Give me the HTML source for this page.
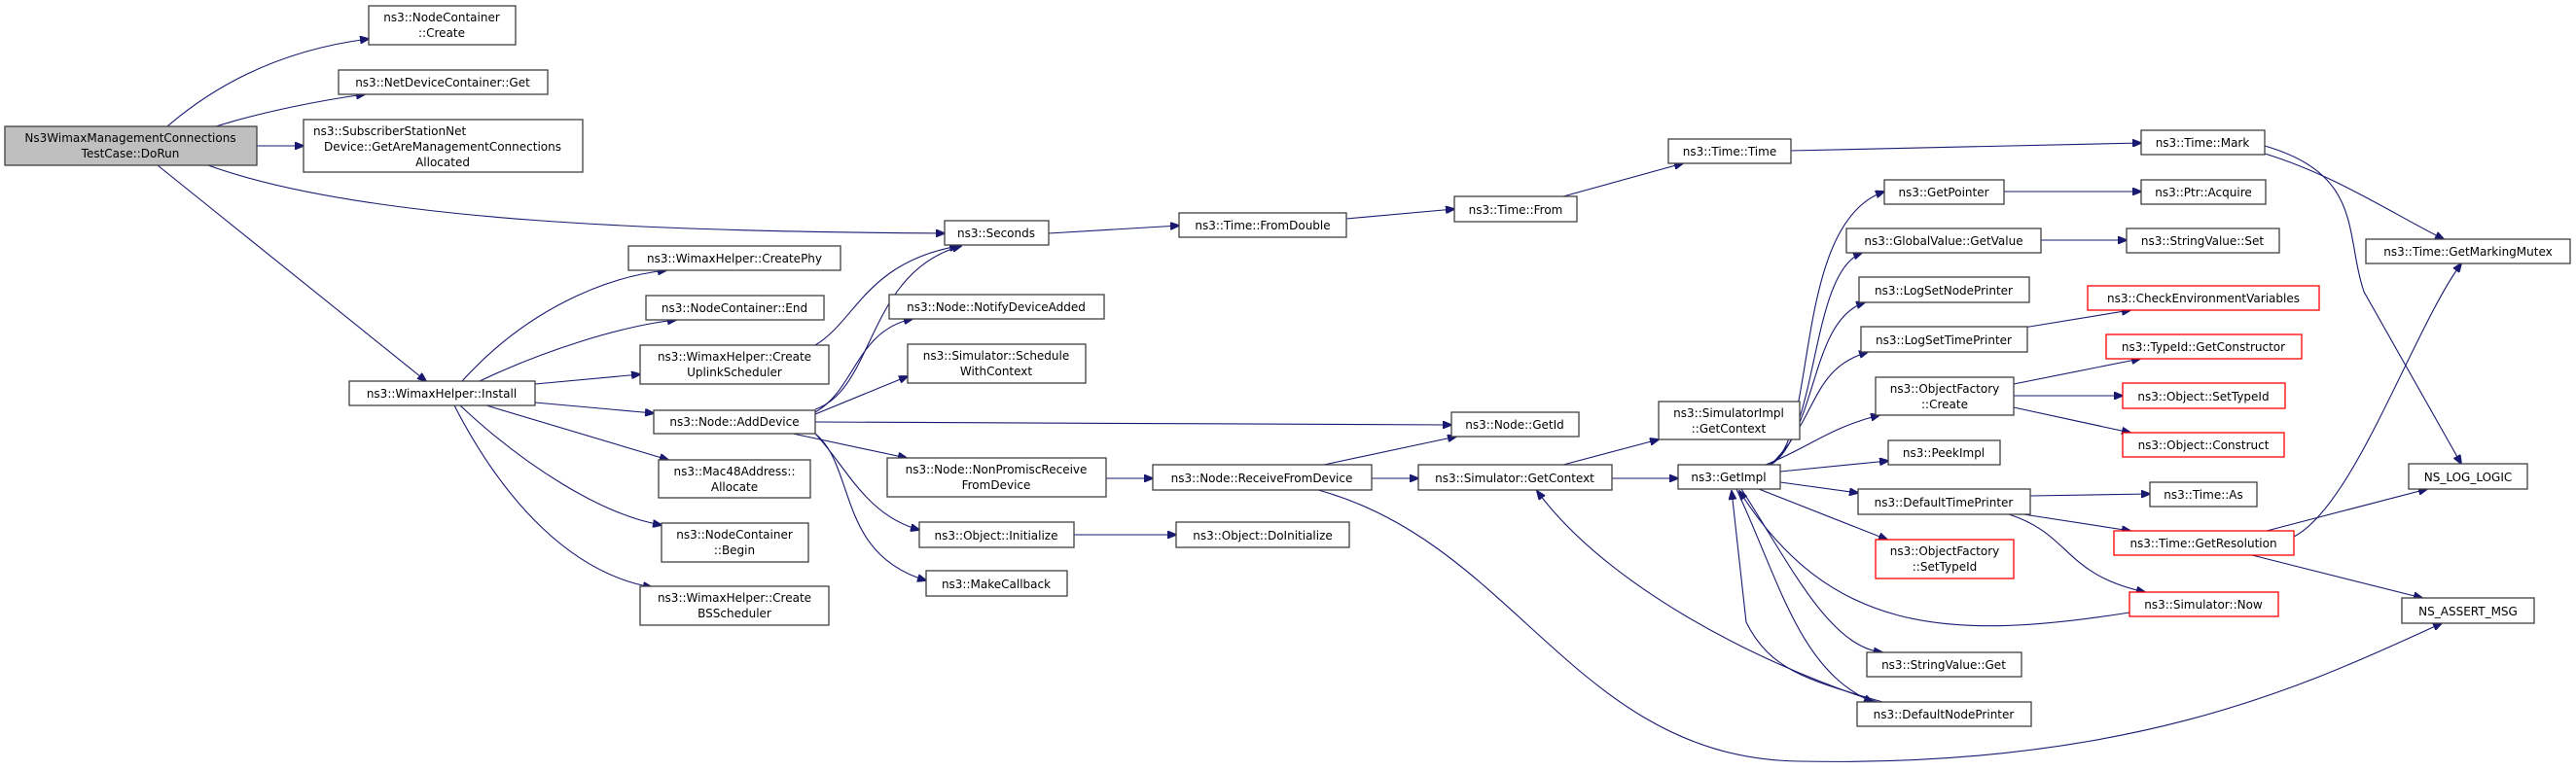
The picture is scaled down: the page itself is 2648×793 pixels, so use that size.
<!DOCTYPE html>
<html><head><meta charset="utf-8"><style>
html,body{margin:0;padding:0;background:#fff;}
svg{display:block}
text{font-family:"DejaVu Sans","Liberation Sans",sans-serif;font-size:12px;fill:#000;text-anchor:middle}
.b{fill:#fff;stroke:#404040;stroke-width:1.3}
.r{fill:#fff;stroke:#ff0000;stroke-width:1.3}
.g{fill:#bfbfbf;stroke:#404040;stroke-width:1.3}
path.e{fill:none;stroke:#191970;stroke-width:1.1}
</style></head><body>
<svg width="2648" height="793" viewBox="0 0 2648 793" xmlns="http://www.w3.org/2000/svg">
<defs><marker id="a" markerWidth="10" markerHeight="8" refX="9" refY="4" orient="auto" markerUnits="userSpaceOnUse"><path d="M0,0 L10,4 L0,8 z" fill="#191970" stroke="#191970"/></marker></defs>

<!-- edges -->
<g marker-end="url(#a)">
<path class="e" d="M172,130 C230,80 300,50 379,40"/>
<path class="e" d="M222,130 C270,115 330,103 375,97"/>
<path class="e" d="M264,150 L312,150"/>
<path class="e" d="M214,170 C380,230 700,238 971,240"/>
<path class="e" d="M162,170 L438,392"/>
<path class="e" d="M475,392 C540,320 620,285 685,278"/>
<path class="e" d="M493,392 C560,360 640,335 695,329"/>
<path class="e" d="M550,395 L658,385"/>
<path class="e" d="M550,414 L672,425"/>
<path class="e" d="M500,417 L687,473"/>
<path class="e" d="M473,417 C540,480 620,530 680,540"/>
<path class="e" d="M467,417 C520,520 590,590 670,604"/>
<path class="e" d="M838,355 C880,330 890,270 985,253"/>
<path class="e" d="M838,421 C900,400 890,280 988,253"/>
<path class="e" d="M838,424 C880,400 880,340 938,328"/>
<path class="e" d="M838,426 L933,387"/>
<path class="e" d="M838,434 L1492,437"/>
<path class="e" d="M815,446 L932,471"/>
<path class="e" d="M838,446 C870,480 890,530 945,545"/>
<path class="e" d="M838,446 C880,480 860,570 952,597"/>
<path class="e" d="M1137,492 L1185,492"/>
<path class="e" d="M1361,478 L1497,449"/>
<path class="e" d="M1410,492 L1458,492"/>
<path class="e" d="M1355,504 C1560,560 1620,780 1850,783 C2200,790 2380,700 2510,641"/>
<path class="e" d="M1104,550 L1209,550"/>
<path class="e" d="M1078,240 L1212,232"/>
<path class="e" d="M1384,225 L1495,215"/>
<path class="e" d="M1607,202 L1730,168"/>
<path class="e" d="M1840,155 L2201,147"/>
<path class="e" d="M2328,158 C2400,180 2460,220 2512,246"/>
<path class="e" d="M2328,150 C2430,180 2410,240 2430,300 L2530,477"/>
<path class="e" d="M1607,478 L1705,452"/>
<path class="e" d="M1657,492 L1725,492"/>
<path class="e" d="M1818,478 C1870,460 1840,230 1937,197"/>
<path class="e" d="M1820,478 C1870,450 1860,280 1914,260"/>
<path class="e" d="M1820,478 C1870,440 1860,330 1917,311"/>
<path class="e" d="M1820,478 C1870,430 1860,380 1920,362"/>
<path class="e" d="M1815,478 C1860,460 1880,440 1932,427"/>
<path class="e" d="M1830,485 L1941,474"/>
<path class="e" d="M1830,496 L1910,507"/>
<path class="e" d="M1808,503 L1940,555"/>
<path class="e" d="M1790,503 C1840,580 1880,665 1935,671"/>
<path class="e" d="M1785,503 C1830,600 1850,690 1925,722"/>
<path class="e" d="M2189,630 C2000,660 1880,650 1788,505"/>
<path class="e" d="M1935,722 C1860,700 1820,690 1795,640 L1780,505"/>
<path class="e" d="M1930,722 C1800,680 1650,600 1580,505"/>
<path class="e" d="M2060,197 L2201,197"/>
<path class="e" d="M2098,247 L2186,247"/>
<path class="e" d="M2080,337 L2190,319"/>
<path class="e" d="M2070,395 L2200,369"/>
<path class="e" d="M2070,407 L2182,407"/>
<path class="e" d="M2070,419 L2190,445"/>
<path class="e" d="M2087,510 L2210,508"/>
<path class="e" d="M2080,529 L2190,546"/>
<path class="e" d="M2065,529 C2130,550 2120,590 2205,609"/>
<path class="e" d="M2330,546 L2495,503"/>
<path class="e" d="M2358,552 C2420,520 2480,340 2530,271"/>
<path class="e" d="M2315,571 L2490,615"/>
</g>

<!-- nodes -->
<rect class="g" x="5" y="130" width="259" height="40"/><text x="134" y="146">Ns3WimaxManagementConnections</text><text x="134" y="162">TestCase::DoRun</text>
<rect class="b" x="379" y="6" width="151" height="40"/><text x="454" y="22">ns3::NodeContainer</text><text x="454" y="38">::Create</text>
<rect class="b" x="348" y="72" width="215" height="25"/><text x="455" y="89">ns3::NetDeviceContainer::Get</text>
<rect class="b" x="312" y="123" width="287" height="54"/><text x="455" y="139" style="text-anchor:start" dx="-133">ns3::SubscriberStationNet</text><text x="455" y="155">Device::GetAreManagementConnections</text><text x="455" y="171">Allocated</text>
<rect class="b" x="359" y="392" width="191" height="25"/><text x="454" y="409">ns3::WimaxHelper::Install</text>
<rect class="b" x="646" y="253" width="218" height="25"/><text x="755" y="270">ns3::WimaxHelper::CreatePhy</text>
<rect class="b" x="664" y="304" width="183" height="25"/><text x="755" y="321">ns3::NodeContainer::End</text>
<rect class="b" x="658" y="355" width="194" height="40"/><text x="755" y="371">ns3::WimaxHelper::Create</text><text x="755" y="387">UplinkScheduler</text>
<rect class="b" x="672" y="422" width="166" height="24"/><text x="755" y="438">ns3::Node::AddDevice</text>
<rect class="b" x="677" y="473" width="156" height="39"/><text x="755" y="489">ns3::Mac48Address::</text><text x="755" y="505">Allocate</text>
<rect class="b" x="680" y="538" width="151" height="40"/><text x="755" y="554">ns3::NodeContainer</text><text x="755" y="570">::Begin</text>
<rect class="b" x="658" y="603" width="194" height="40"/><text x="755" y="619">ns3::WimaxHelper::Create</text><text x="755" y="635">BSScheduler</text>

<rect class="b" x="971" y="227" width="107" height="25"/><text x="1024" y="244">ns3::Seconds</text>
<rect class="b" x="914" y="303" width="221" height="25"/><text x="1024" y="320">ns3::Node::NotifyDeviceAdded</text>
<rect class="b" x="933" y="354" width="183" height="40"/><text x="1024" y="370">ns3::Simulator::Schedule</text><text x="1024" y="386">WithContext</text>
<rect class="b" x="912" y="471" width="225" height="40"/><text x="1024" y="487">ns3::Node::NonPromiscReceive</text><text x="1024" y="503">FromDevice</text>
<rect class="b" x="945" y="537" width="159" height="26"/><text x="1024" y="555">ns3::Object::Initialize</text>
<rect class="b" x="952" y="587" width="145" height="26"/><text x="1024" y="605">ns3::MakeCallback</text>

<rect class="b" x="1212" y="219" width="172" height="25"/><text x="1298" y="236">ns3::Time::FromDouble</text>
<rect class="b" x="1185" y="478" width="225" height="26"/><text x="1297" y="496">ns3::Node::ReceiveFromDevice</text>
<rect class="b" x="1209" y="537" width="178" height="26"/><text x="1298" y="555">ns3::Object::DoInitialize</text>

<rect class="b" x="1495" y="202" width="126" height="26"/><text x="1558" y="220">ns3::Time::From</text>
<rect class="b" x="1492" y="424" width="131" height="25"/><text x="1557" y="441">ns3::Node::GetId</text>
<rect class="b" x="1458" y="478" width="199" height="26"/><text x="1557" y="496">ns3::Simulator::GetContext</text>

<rect class="b" x="1715" y="143" width="126" height="25"/><text x="1778" y="160">ns3::Time::Time</text>
<rect class="b" x="1705" y="413" width="145" height="39"/><text x="1777" y="429">ns3::SimulatorImpl</text><text x="1777" y="445">::GetContext</text>
<rect class="b" x="1725" y="478" width="105" height="25"/><text x="1777" y="495">ns3::GetImpl</text>

<rect class="b" x="1937" y="185" width="123" height="25"/><text x="1998" y="202">ns3::GetPointer</text>
<rect class="b" x="1898" y="235" width="200" height="25"/><text x="1998" y="252">ns3::GlobalValue::GetValue</text>
<rect class="b" x="1911" y="285" width="175" height="26"/><text x="1998" y="303">ns3::LogSetNodePrinter</text>
<rect class="b" x="1913" y="336" width="171" height="26"/><text x="1998" y="354">ns3::LogSetTimePrinter</text>
<rect class="b" x="1928" y="388" width="142" height="39"/><text x="1999" y="404">ns3::ObjectFactory</text><text x="1999" y="420">::Create</text>
<rect class="b" x="1941" y="453" width="115" height="25"/><text x="1998" y="470">ns3::PeekImpl</text>
<rect class="b" x="1910" y="503" width="177" height="26"/><text x="1998" y="521">ns3::DefaultTimePrinter</text>
<rect class="r" x="1928" y="555" width="142" height="40"/><text x="1999" y="571">ns3::ObjectFactory</text><text x="1999" y="587">::SetTypeId</text>
<rect class="b" x="1919" y="671" width="159" height="25"/><text x="1998" y="688">ns3::StringValue::Get</text>
<rect class="b" x="1909" y="722" width="179" height="25"/><text x="1998" y="739">ns3::DefaultNodePrinter</text>

<rect class="b" x="2201" y="134" width="127" height="25"/><text x="2264" y="151">ns3::Time::Mark</text>
<rect class="b" x="2201" y="185" width="128" height="25"/><text x="2265" y="202">ns3::Ptr::Acquire</text>
<rect class="b" x="2186" y="235" width="157" height="25"/><text x="2264" y="252">ns3::StringValue::Set</text>
<rect class="r" x="2146" y="294" width="238" height="25"/><text x="2265" y="311">ns3::CheckEnvironmentVariables</text>
<rect class="r" x="2165" y="344" width="201" height="25"/><text x="2265" y="361">ns3::TypeId::GetConstructor</text>
<rect class="r" x="2182" y="394" width="167" height="26"/><text x="2265" y="412">ns3::Object::SetTypeId</text>
<rect class="r" x="2182" y="445" width="166" height="25"/><text x="2265" y="462">ns3::Object::Construct</text>
<rect class="b" x="2210" y="496" width="110" height="25"/><text x="2265" y="513">ns3::Time::As</text>
<rect class="r" x="2173" y="546" width="185" height="25"/><text x="2265" y="563">ns3::Time::GetResolution</text>
<rect class="r" x="2189" y="609" width="153" height="25"/><text x="2265" y="626">ns3::Simulator::Now</text>

<rect class="b" x="2432" y="246" width="210" height="25"/><text x="2537" y="263">ns3::Time::GetMarkingMutex</text>
<rect class="b" x="2476" y="477" width="122" height="26"/><text x="2537" y="495">NS_LOG_LOGIC</text>
<rect class="b" x="2469" y="615" width="136" height="26"/><text x="2537" y="633">NS_ASSERT_MSG</text>
</svg>
</body></html>
